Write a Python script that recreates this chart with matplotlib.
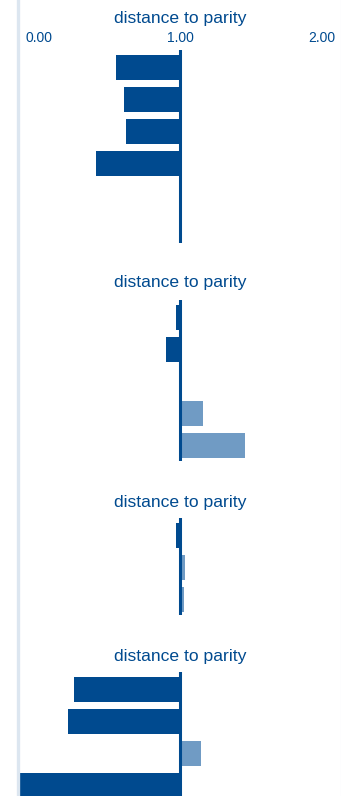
import matplotlib.pyplot as plt

# DATA ========================================================================

# Ratio values per panel (parity = 1.00); blank rows are None.
panel1_vals = [0.605, 0.654, 0.667, 0.48, None, None]
panel2_vals = [0.975, 0.914, None, 1.142, 1.40]
panel3_vals = [0.975, 1.03, 1.025]
panel4_vals = [0.346, 0.309, 1.13, 0.0]

PANELS = [panel1_vals, panel2_vals, panel3_vals, panel4_vals]
PANEL_TOPS = [50, 300, 518, 672]  # pixel row where parity line starts
TITLE_GAPS = [32, 17, 16, 16]  # px from title centre down to parity line

TITLE = 'distance to parity'
TICK_VALS = [0.0, 1.0, 2.0]
TICK_LABELS = ['0.00', '1.00', '2.00']
PARITY = 1.0

# STYLE =======================================================================

DARK = '#004a8f'
LIGHT = '#709bc4'
FRAME = '#dce6f0'
FONT = ['Liberation Sans', 'DejaVu Sans']

W, H = 341, 796
DPI = 100
X0, PX_PER_UNIT = 18, 162  # x pixel of 0.00 and pixels per unit
PITCH = 32  # row pitch in px

plt.rcParams['font.family'] = FONT

fig = plt.figure(figsize=(W / DPI, H / DPI), dpi=DPI)
fig.patch.set_facecolor('white')

# Light frame lines at left and right.
fig.add_artist(plt.Line2D([17.5 / W, 17.5 / W], [0, 1], color=FRAME, lw=2.4))
fig.add_artist(plt.Line2D([340.5 / W, 340.5 / W], [0, 1], color=FRAME, lw=0.8))

# PLOT PANELS =================================================================

for k, (vals, top) in enumerate(zip(PANELS, PANEL_TOPS)):
    n = len(vals)
    h_px = PITCH * n + 1
    ax = fig.add_axes([X0 / W, 1 - (top + h_px) / H,
                       2 * PX_PER_UNIT / W, h_px / H])
    ax.set_xlim(0, 2)
    ax.set_ylim(n - 1 + 15.5 / PITCH, -17.5 / PITCH)
    ax.axis('off')

    for i, v in enumerate(vals):
        if v is None:
            continue
        color = DARK if v < PARITY else LIGHT
        ax.barh(i, v - PARITY, left=PARITY, height=25 / PITCH,
                color=color, linewidth=0)

    ax.axvline(PARITY, color=DARK, lw=2.2, zorder=5)

    # Panel title.
    ax.annotate(TITLE, xy=(PARITY, 1), xycoords=('data', 'axes fraction'),
                xytext=(0, TITLE_GAPS[k]), textcoords='offset pixels',
                ha='center', va='center', fontsize=12.6, color=DARK,
                annotation_clip=False)

    if k == 0:
        aligns = ['left', 'center', 'right']
        offsets = [7, 0, -7]
        for tv, tl, al, off in zip(TICK_VALS, TICK_LABELS, aligns, offsets):
            ax.annotate(tl, xy=(tv, 1), xycoords=('data', 'axes fraction'),
                        xytext=(off, 12), textcoords='offset pixels',
                        ha=al, va='center', fontsize=10, color=DARK,
                        annotation_clip=False)

fig.savefig('out.png', dpi=DPI, facecolor='white')
